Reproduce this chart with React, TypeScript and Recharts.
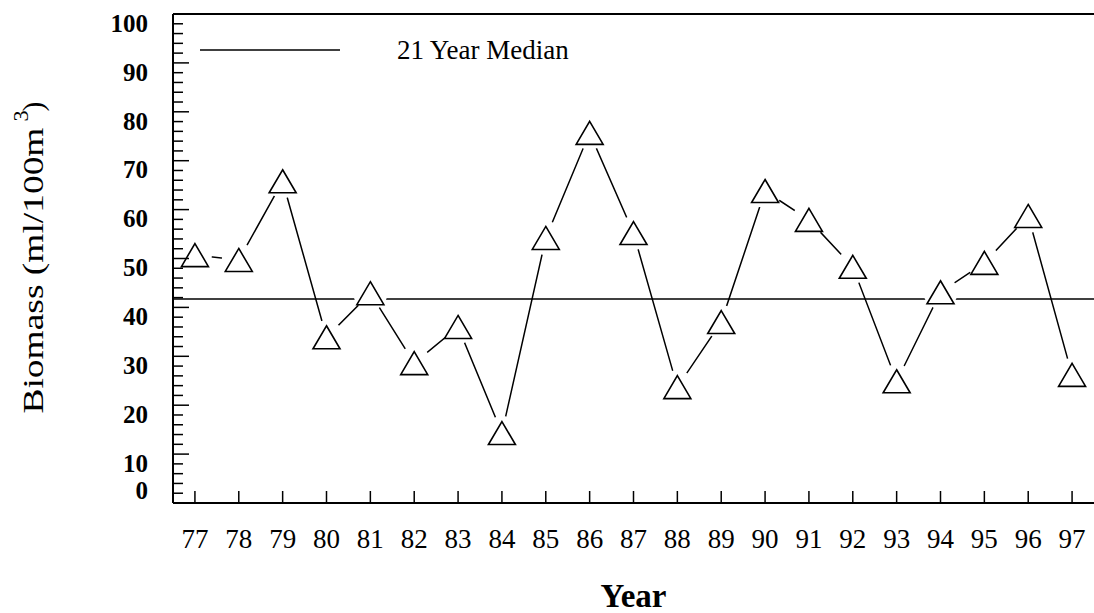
import { LineChart, Line, XAxis, YAxis, ReferenceLine } from "recharts";

const years = [77, 78, 79, 80, 81, 82, 83, 84, 85, 86, 87, 88, 89, 90, 91, 92, 93, 94, 95, 96, 97];
const biomass = [
  50.7, 49.7, 65.8, 33.9, 42.9, 28.6, 36.0, 14.3, 54.2, 75.7, 55.2,
  23.7, 37.0, 63.8, 57.9, 48.3, 24.9, 43.1, 49.1, 58.7, 26.2,
];
const medianValue = 41.7;
const yMajorTicks = [0, 10, 20, 30, 40, 50, 60, 70, 80, 90, 100];
// minor ticks every 2 units
const yTicks = Array.from({ length: 51 }, (_, i) => i * 2);

const chartData = years.map((year, i) => ({ year, biomass: biomass[i] }));

const FONT = "'Liberation Serif', 'Times New Roman', serif";
const Y_MARGIN = 25;
const X_MARGIN = 26;

const YTick = (props: any) => {
  const { x, y, payload } = props;
  const axisX = x + Y_MARGIN;
  const major = yMajorTicks.includes(payload.value);
  // the zero label sits a bit higher in the original
  const off = payload.value === 0 ? -13 : 9;
  return (
    <g>
      <line x1={axisX} x2={axisX + (major ? 16 : 10)} y1={y} y2={y} stroke="#000" strokeWidth={1.5} />
      {major && (
        <text x={x} y={y + off} dy="0.35em" textAnchor="end" fontFamily={FONT} fontSize={25} fontWeight="bold" fill="#000">
          {payload.value}
        </text>
      )}
    </g>
  );
};

const XTick = (props: any) => {
  const { x, y, payload } = props;
  const axisY = y - X_MARGIN;
  return (
    <g>
      <line x1={x} x2={x} y1={axisY} y2={axisY - 12} stroke="#000" strokeWidth={1.5} />
      <text x={x} y={y} dy="0.71em" textAnchor="middle" fontFamily={FONT} fontSize={27} fill="#000">
        {payload.value}
      </text>
    </g>
  );
};

const TriangleDot = (props: any) => {
  const { cx, cy } = props;
  if (cx == null || cy == null) return null;
  return (
    <g>
      <circle cx={cx} cy={cy} r={17} fill="#fff" />
      <path
        d={`M${cx},${cy - 11.5} L${cx + 13.5},${cy + 11.5} L${cx - 13.5},${cy + 11.5} Z`}
        fill="#fff"
        stroke="#000"
        strokeWidth={1.6}
      />
    </g>
  );
};

const BiomassTitle = (props: any) => {
  const vb = props.viewBox || {};
  const cx = vb.x + 33;
  const cy = vb.y + vb.height / 2;
  return (
    <g transform={`translate(${cx}, ${cy}) rotate(-90)`} fontFamily={FONT} fill="#000">
      <text x={-155} y={0} dy="0.35em" fontSize={29} textLength={286} lengthAdjust="spacingAndGlyphs">
        Biomass (ml/100m
      </text>
      <text x={137} y={-13} dy="0.35em" fontSize={22}>3</text>
      <text x={147} y={0} dy="0.35em" fontSize={29}>)</text>
    </g>
  );
};

export default function App() {
  return (
    <div style={{ position: "absolute", left: 0, top: 0, width: 1094, height: 613, background: "#fff" }}>
      <LineChart width={1094} height={613} data={chartData} margin={{ top: 14, right: 0, bottom: 0, left: 0 }}>
        <XAxis
          dataKey="year"
          type="number"
          domain={[76.5, 97.5]}
          ticks={years}
          interval={0}
          height={110}
          tickSize={0}
          tickMargin={X_MARGIN}
          tickLine={false}
          tick={<XTick />}
          axisLine={{ stroke: "#000", strokeWidth: 2 }}
          label={{
            value: "Year",
            position: "insideBottom",
            offset: 6,
            fontFamily: FONT,
            fontSize: 33,
            fontWeight: "bold",
            fill: "#000",
          }}
        />
        <YAxis
          type="number"
          domain={[0, 100]}
          ticks={yTicks}
          interval={0}
          width={173}
          tickSize={0}
          tickMargin={Y_MARGIN}
          tickLine={false}
          tick={<YTick />}
          axisLine={{ stroke: "#000", strokeWidth: 2 }}
          label={<BiomassTitle />}
        />
        <Line
          dataKey="biomass"
          stroke="#000"
          strokeWidth={1.5}
          dot={<TriangleDot />}
          activeDot={false}
          isAnimationActive={false}
        />
        <ReferenceLine y={medianValue} stroke="#000" strokeWidth={1.5} />
        <ReferenceLine y={100} stroke="#000" strokeWidth={2} />
      </LineChart>
      <div style={{ position: "absolute", left: 200, top: 32, display: "flex", alignItems: "center" }}>
        <svg width={140} height={4} style={{ display: "block" }}>
          <line x1={0} x2={140} y1={2} y2={2} stroke="#000" strokeWidth={1.5} />
        </svg>
        <span style={{ marginLeft: 57, fontFamily: FONT, fontSize: 27, color: "#000", lineHeight: "36px" }}>
          21 Year Median
        </span>
      </div>
    </div>
  );
}
